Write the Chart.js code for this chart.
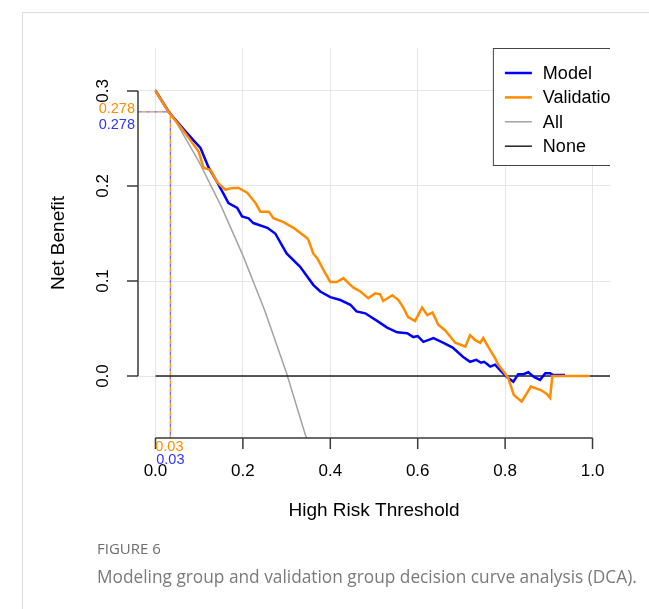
<!DOCTYPE html>
<html>
<head>
<meta charset="utf-8">
<script src="https://cdn.jsdelivr.net/npm/chart.js@4"></script>
<style>
html,body{margin:0;padding:0;background:#fff;}
#wrap{position:relative;width:649px;height:609px;overflow:hidden;background:#fff;}
#c{position:absolute;left:0;top:0;}
.frameTop{position:absolute;left:22px;top:12px;width:627px;height:0;border-top:1px solid #dcdcdc;}
.frameLeft{position:absolute;left:22px;top:12px;width:0;height:597px;border-left:1px solid #dcdcdc;}
.fig{position:absolute;left:97px;top:541px;font-family:'Open Sans',sans-serif;font-size:15px;line-height:15px;color:#6e6e6e;white-space:nowrap;}
.cap{position:absolute;left:97px;top:568px;font-family:'Open Sans',sans-serif;font-size:17.3px;line-height:17px;color:#7a7a7a;white-space:nowrap;}
</style>
</head>
<body>
<div id="wrap">
  <canvas id="c" width="649" height="609"></canvas>
  <div class="frameTop"></div>
  <div class="frameLeft"></div>
  <div class="fig">FIGURE 6</div>
  <div class="cap">Modeling group and validation group decision curve analysis (DCA).</div>
</div>
<script>
// ---------------- data ----------------
const xTicks = [0, 0.2, 0.4, 0.6, 0.8, 1.0];
const yTicks = [0, 0.1, 0.2, 0.3];
const seriesNames = ['Model', 'Validation', 'All', 'None'];

// [threshold, net benefit]
const modelCurve = [
  [0,0.300],[0.03,0.278],[0.064,0.260],[0.087,0.248],[0.103,0.240],[0.121,0.220],[0.141,0.204],
  [0.153,0.194],[0.167,0.182],[0.187,0.177],[0.198,0.168],[0.213,0.166],[0.224,0.161],[0.256,0.156],
  [0.274,0.150],[0.300,0.129],[0.331,0.115],[0.361,0.096],[0.377,0.089],[0.400,0.083],[0.423,0.080],
  [0.446,0.075],[0.460,0.068],[0.480,0.066],[0.507,0.058],[0.530,0.051],[0.553,0.046],[0.576,0.045],
  [0.590,0.041],[0.600,0.042],[0.613,0.036],[0.636,0.040],[0.659,0.035],[0.680,0.030],[0.704,0.020],
  [0.720,0.015],[0.734,0.017],[0.745,0.014],[0.752,0.015],[0.766,0.010],[0.777,0.012],[0.789,0.006],
  [0.804,-0.001],[0.819,-0.006],[0.830,0.002],[0.842,0.002],[0.853,0.004],[0.866,-0.001],[0.880,-0.004],
  [0.892,0.003],[0.903,0.003],[0.910,0.001],[0.937,0.001]
];
const validationCurve = [
  [0,0.300],[0.03,0.278],[0.064,0.258],[0.080,0.248],[0.099,0.236],[0.110,0.219],[0.126,0.217],
  [0.141,0.204],[0.153,0.199],[0.160,0.196],[0.176,0.198],[0.190,0.198],[0.210,0.193],[0.229,0.182],
  [0.240,0.173],[0.259,0.173],[0.270,0.166],[0.293,0.162],[0.316,0.156],[0.327,0.152],[0.347,0.145],
  [0.350,0.143],[0.361,0.129],[0.370,0.124],[0.384,0.112],[0.400,0.099],[0.415,0.099],[0.430,0.103],
  [0.446,0.096],[0.453,0.093],[0.469,0.089],[0.487,0.082],[0.503,0.087],[0.514,0.086],[0.521,0.079],
  [0.542,0.085],[0.556,0.080],[0.567,0.072],[0.578,0.062],[0.594,0.058],[0.610,0.072],[0.622,0.064],
  [0.634,0.067],[0.647,0.054],[0.663,0.048],[0.686,0.035],[0.709,0.031],[0.720,0.043],[0.731,0.038],
  [0.743,0.035],[0.750,0.040],[0.761,0.031],[0.777,0.019],[0.784,0.012],[0.796,0.005],[0.807,-0.002],
  [0.820,-0.020],[0.838,-0.027],[0.859,-0.011],[0.883,-0.015],[0.896,-0.019],[0.903,-0.023],
  [0.908,0.000],[0.994,0.000]
];
const allCurve = [
  [0,0.302],[0.05,0.265],[0.10,0.225],[0.15,0.179],[0.20,0.127],[0.25,0.069],[0.30,0.003],
  [0.343,-0.062],[0.36,-0.080]
];
const noneCurve = [[0,0],[1.04,0]];

const cutoffX = 0.034;
const cutoffNB = 0.278;
const cutoffXLabel = '0.03';
const cutoffNBLabel = '0.278';

// ---------------- styles ----------------
const FONT = "'Liberation Sans', Arial, Helvetica, sans-serif";
const BLUE = '#0000ff';
const ORANGE = '#ff8c00';
const GRAY = '#a3a3a3';
const BLACK = '#222222';
const seriesColors = [BLUE, ORANGE, GRAY, BLACK];
const seriesWidths = [2.5, 2.5, 1.5, 1.5];

const toXY = arr => arr.map(([t, v]) => ({x: t, y: v}));

const rPlot = {
  id: 'rPlot',
  beforeDatasetsDraw(chart) {
    const {ctx, chartArea: a, scales: {x, y}} = chart;
    const px = x.getPixelForValue(cutoffX), py = y.getPixelForValue(cutoffNB);
    ctx.save();
    ctx.lineWidth = 1.3;
    [['rgba(100,100,255,0.9)', 0], ['rgba(255,140,0,0.9)', 4]].forEach(([col, off]) => {
      ctx.strokeStyle = col;
      ctx.setLineDash([4, 4]);
      ctx.lineDashOffset = off;
      ctx.beginPath();
      ctx.moveTo(a.left, py);
      ctx.lineTo(px, py);
      ctx.lineTo(px, a.bottom);
      ctx.stroke();
    });
    ctx.restore();
  },
  afterDatasetsDraw(chart) {
    const {ctx, chartArea: a, scales: {x}} = chart;
    ctx.save();
    ctx.beginPath();
    ctx.rect(a.left, a.top, a.right - a.left, a.bottom - a.top);
    ctx.clip();
    const bx = x.getPixelForValue(0.772), by = a.top;
    ctx.fillStyle = '#fff';
    ctx.fillRect(bx, by, 135, 117);
    ctx.strokeStyle = '#444';
    ctx.lineWidth = 1;
    ctx.strokeRect(bx + 0.5, by + 0.5, 135, 117);
    ctx.font = '18px ' + FONT;
    ctx.textBaseline = 'middle';
    ctx.textAlign = 'left';
    seriesNames.forEach((name, i) => {
      const ry = by + 25 + i * 24.4;
      ctx.strokeStyle = seriesColors[i];
      ctx.lineWidth = seriesWidths[i];
      ctx.beginPath();
      ctx.moveTo(bx + 12, ry);
      ctx.lineTo(bx + 39, ry);
      ctx.stroke();
      ctx.fillStyle = '#000';
      ctx.fillText(name, bx + 50, ry + 1);
    });
    ctx.restore();
  },
  afterDraw(chart) {
    const {ctx, chartArea: a, scales: {x, y}} = chart;
    ctx.save();
    ctx.strokeStyle = '#3a3a3a';
    ctx.lineWidth = 1.5;
    ctx.beginPath();
    const yTop = y.getPixelForValue(yTicks[yTicks.length - 1]);
    const yBot = y.getPixelForValue(yTicks[0]);
    ctx.moveTo(a.left, yBot); ctx.lineTo(a.left, yTop);
    yTicks.forEach(v => { const p = y.getPixelForValue(v); ctx.moveTo(a.left, p); ctx.lineTo(a.left - 11, p); });
    const xL = x.getPixelForValue(xTicks[0]);
    const xR = x.getPixelForValue(xTicks[xTicks.length - 1]);
    ctx.moveTo(xL, a.bottom); ctx.lineTo(xR, a.bottom);
    xTicks.forEach(v => { const p = x.getPixelForValue(v); ctx.moveTo(p, a.bottom); ctx.lineTo(p, a.bottom + 11); });
    ctx.stroke();

    // cutoff annotations
    const px = x.getPixelForValue(cutoffX), py = y.getPixelForValue(cutoffNB);
    ctx.font = '14.5px ' + FONT;
    ctx.textBaseline = 'middle';
    ctx.textAlign = 'right';
    ctx.fillStyle = ORANGE;
    ctx.fillText(cutoffNBLabel, a.left - 3, py - 3);
    ctx.fillStyle = '#3333ff';
    ctx.fillText(cutoffNBLabel, a.left - 3, py + 13);
    ctx.textAlign = 'center';
    ctx.fillStyle = ORANGE;
    ctx.fillText(cutoffXLabel, px - 1, a.bottom + 9);
    ctx.fillStyle = '#3333ff';
    ctx.fillText(cutoffXLabel, px, a.bottom + 22);
    ctx.restore();
  }
};

new Chart(document.getElementById('c').getContext('2d'), {
  type: 'line',
  data: {
    datasets: [
      {label: 'Validation', data: toXY(validationCurve), borderColor: ORANGE, borderWidth: 2.5, order: 0},
      {label: 'Model', data: toXY(modelCurve), borderColor: BLUE, borderWidth: 2.5, order: 1},
      {label: 'None', data: toXY(noneCurve), borderColor: BLACK, borderWidth: 1.5, order: 2},
      {label: 'All', data: toXY(allCurve), borderColor: GRAY, borderWidth: 1.5, order: 3}
    ]
  },
  options: {
    responsive: false,
    animation: false,
    devicePixelRatio: 1,
    elements: {point: {radius: 0}, line: {tension: 0, fill: false}},
    layout: {padding: {left: 0, top: 48, right: 39, bottom: 88.5}},
    plugins: {legend: {display: false}, tooltip: {enabled: false}},
    scales: {
      x: {
        type: 'linear', min: -0.04, max: 1.04,
        afterBuildTicks: s => { s.ticks = xTicks.map(v => ({value: v})); },
        afterFit: s => { s.height = 82.5; },
        ticks: {
          callback: v => Number(v).toFixed(1), autoSkip: false, maxRotation: 0, minRotation: 0,
          padding: 24.5, color: '#000', font: {family: FONT, size: 17, lineHeight: 1}
        },
        grid: {color: '#e6e6e6', lineWidth: 1, drawTicks: false},
        border: {display: false},
        title: {display: true, text: 'High Risk Threshold', color: '#000', padding: 0,
                font: {family: FONT, size: 19, lineHeight: 1}}
      },
      y: {
        type: 'linear', min: -0.0652, max: 0.3452,
        afterBuildTicks: s => { s.ticks = yTicks.map(v => ({value: v})); },
        afterFit: s => { s.width = 138; },
        ticks: {
          callback: v => Number(v).toFixed(1), autoSkip: false, minRotation: 90, maxRotation: 90,
          crossAlign: 'center', padding: 23.2, color: '#000', font: {family: FONT, size: 17, lineHeight: 1}
        },
        grid: {color: '#e6e6e6', lineWidth: 1, drawTicks: false},
        border: {display: false},
        title: {display: true, text: 'Net Benefit', color: '#000', padding: {top: 49.5, bottom: 0},
                font: {family: FONT, size: 19, lineHeight: 1}}
      }
    }
  },
  plugins: [rPlot]
});
</script>
</body>
</html>
